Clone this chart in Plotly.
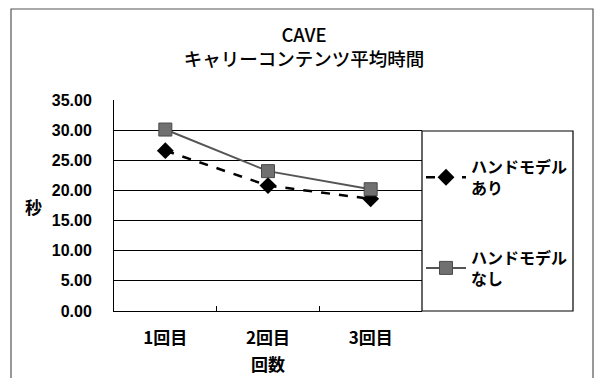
import plotly.graph_objects as go

categories = ["1回目", "2回目", "3回目"]
with_hand = [26.6, 20.8, 18.6]
without_hand = [30.1, 23.2, 20.2]
y_ticks = [0, 5, 10, 15, 20, 25, 30, 35]
y_tick_labels = ["0.00", "5.00", "10.00", "15.00", "20.00", "25.00", "30.00", "35.00"]

W, H = 597, 378
L, R, T, B = 114, 175, 100, 67
PW, PH = W - L - R, H - T - B

jp = "Noto Sans CJK JP"
num = "Liberation Sans, Arial"

fig = go.Figure()
fig.add_trace(go.Scatter(
    x=categories, y=with_hand, name="ハンドモデル<br>あり", legendgroup="a",
    mode="lines+markers",
    line=dict(color="black", width=2.5, dash="dash"),
    marker=dict(symbol="diamond", size=13, color="black"),
))
fig.add_trace(go.Scatter(
    x=categories, y=without_hand, name="ハンドモデル<br>なし", legendgroup="b",
    mode="lines+markers",
    line=dict(color="#555555", width=2),
    marker=dict(symbol="square", size=13, color="#707070",
                line=dict(color="#4a4a4a", width=1)),
))

fig.update_layout(
    width=W, height=H,
    margin=dict(l=L, r=R, t=T, b=B, autoexpand=False),
    paper_bgcolor="white", plot_bgcolor="white",
    title=dict(text="CAVE<br>キャリーコンテンツ平均時間",
               x=304 / W, xref="container",
               xanchor="center", y=1 - 42 / H, yanchor="middle", yref="container",
               font=dict(family=jp, size=18.5, color="black", weight=500)),
    xaxis=dict(
        type="category", range=[-0.5, 2.5], automargin=False,
        showgrid=False, showline=True, linecolor="black", linewidth=1,
        ticks="inside", tickson="boundaries", ticklen=5, tickcolor="black",
        ticklabelstandoff=12,
        tickfont=dict(family=jp, size=17, color="black", weight="bold"),
        title=dict(text="回数", font=dict(family=jp, size=17, color="black", weight="bold"),
                   standoff=10),
    ),
    yaxis=dict(
        range=[0, 35], tickvals=y_ticks, ticktext=y_tick_labels, automargin=False,
        showgrid=True, gridcolor="black", gridwidth=1,
        showline=True, linecolor="black", linewidth=1,
        zeroline=False, ticks="", ticklabelstandoff=18,
        tickfont=dict(family=num, size=16, color="black", weight="bold"),
    ),
    legend=dict(
        x=(421 - L) / PW, xref="paper", xanchor="left",
        y=1 - (150 - T) / PH, yanchor="top", yref="paper",
        font=dict(family=jp, size=16, color="black", weight="bold"),
        bgcolor="rgba(0,0,0,0)", borderwidth=0,
        tracegroupgap=46, itemwidth=40,
    ),
    annotations=[
        dict(text="秒", x=(33 - L) / PW, xref="paper", y=1 - (206 - T) / PH, yref="paper",
             showarrow=False, xanchor="center", yanchor="middle",
             font=dict(family=jp, size=17, color="black", weight="bold")),
    ],
    shapes=[
        dict(type="rect", xref="paper", yref="paper",
             x0=1.0, x1=(573 - L) / PW,
             y0=0, y1=1 - (131 - T) / PH,
             line=dict(color="black", width=1.2)),
        dict(type="rect", xref="paper", yref="paper",
             x0=(11 - L) / PW, x1=(593 - L) / PW,
             y0=-(390 - (H - B)) / PH, y1=1 + (T - 9) / PH,
             line=dict(color="#555555", width=1.2)),
    ],
    showlegend=True,
)

fig.write_html("out.html", config={"displayModeBar": False},
               post_script="document.body.style.margin='0';")
